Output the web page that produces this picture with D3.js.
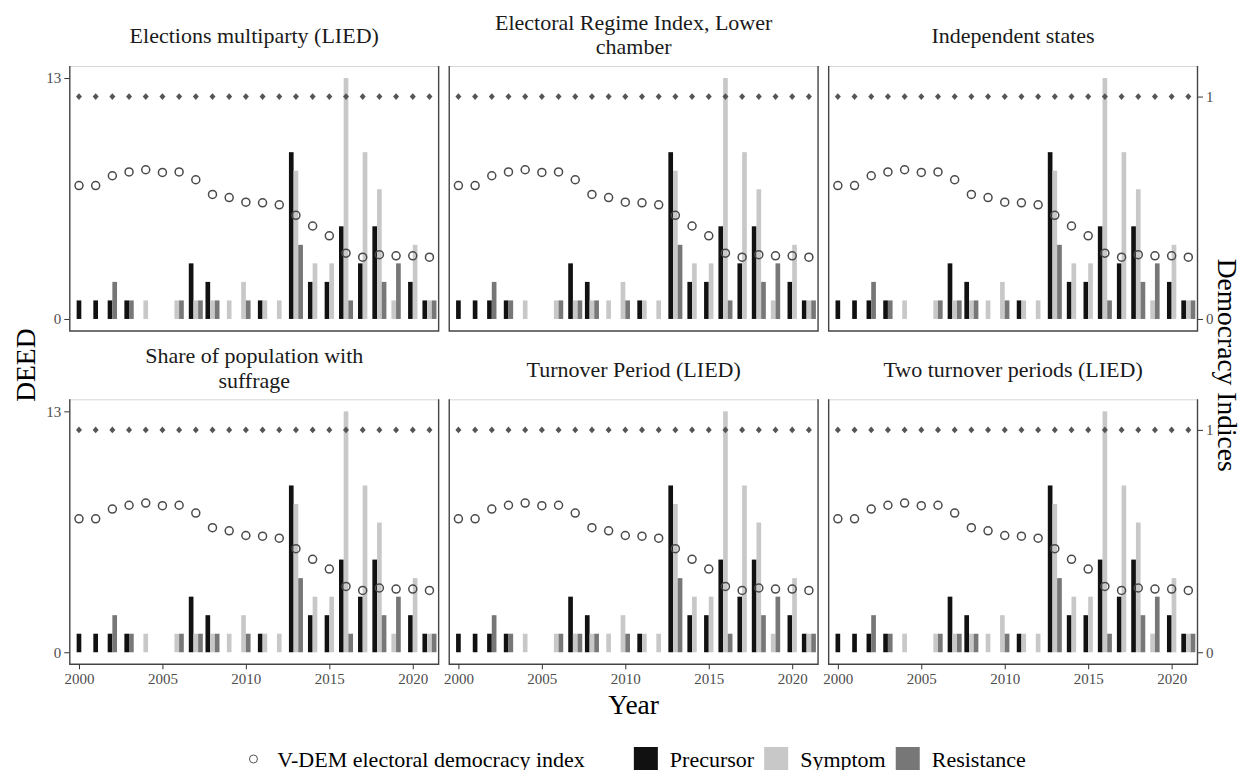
<!DOCTYPE html>
<html><head><meta charset="utf-8">
<script src="https://cdn.jsdelivr.net/npm/d3@7"></script>
<style>body{margin:0;background:#fff} svg{display:block}</style>
</head><body><svg id="c" width="1243" height="770"></svg>
<script>
// ---------------- data ----------------
const years = [2000,2001,2002,2003,2004,2005,2006,2007,2008,2009,2010,2011,2012,2013,2014,2015,2016,2017,2018,2019,2020,2021];
const precursor  = [1,1,1,1,0,0,0,3,2,0,0,1,0,9,2,2,5,3,5,0,2,1];
const symptom    = [0,0,0,0,1,0,1,1,1,1,2,1,1,8,3,3,13,9,7,1,4,1];
const resistance = [0,0,2,1,0,0,1,1,1,0,1,0,0,4,0,0,1,0,2,3,0,1];
const vdemIndex  = [0.600,0.600,0.644,0.661,0.671,0.659,0.661,0.626,0.560,0.546,0.525,0.522,0.513,0.466,0.418,0.374,0.296,0.278,0.289,0.284,0.284,0.278];
const indicator  = [1,1,1,1,1,1,1,1,1,1,1,1,1,1,1,1,1,1,1,1,1,1];
const panelTitles = [
  ["Elections multiparty (LIED)"],
  ["Electoral Regime Index, Lower", "chamber"],
  ["Independent states"],
  ["Share of population with", "suffrage"],
  ["Turnover Period (LIED)"],
  ["Two turnover periods (LIED)"]
];
const xTicks = [2000,2005,2010,2015,2020];
const leftTicks = [0,13];
const rightTicks = [0,1];
const seriesNames = ["Precursor","Symptom","Resistance"];
const seriesColors = ["#111111","#c8c8c8","#777777"];
const seriesValues = [precursor, symptom, resistance];
const secScale = 12; // secondary axis: index * 12 on DEED scale

// ---------------- layout ----------------
const FONT = "'Liberation Serif', 'Times New Roman', serif";
const svg = d3.select("#c");
const left = 69.3, right = 1198, gap = 9.6;
const pw = (right - left - 2*gap) / 3;
const ph = 265;
const rowY = [66, 399.3];
const colX = [0,1,2].map(i => left + i*(pw+gap));

const x = d3.scaleLinear().domain([1999.42, 2021.58]).range([0, pw]);
const y = d3.scaleLinear().domain([-0.65, 13.65]).range([ph, 0]);
const yR = d3.scaleLinear().domain([-0.65/secScale, 13.65/secScale]).range([ph, 0]);
const pitch = 0.28;
const bw = x(pitch) - x(0);

panelTitles.forEach((title, p) => {
  const col = p % 3, row = Math.floor(p / 3);
  const g = svg.append("g").attr("transform", `translate(${colX[col]},${rowY[row]})`);

  // bars
  years.forEach((yr, i) => {
    const present = [0,1,2].filter(s => seriesValues[s][i] > 0);
    const n = present.length;
    present.forEach((s, j) => {
      const v = seriesValues[s][i];
      const cx = x(yr + (j - (n-1)/2) * pitch);
      g.append("rect")
        .attr("x", cx - bw/2).attr("width", bw)
        .attr("y", y(v)).attr("height", y(0) - y(v))
        .attr("fill", seriesColors[s]);
    });
  });

  // indicator diamonds
  g.selectAll("path.dia").data(years).join("path")
    .attr("class","dia")
    .attr("d", (d,i) => {
      const cx = x(d), cy = yR(indicator[i]);
      return `M${cx},${cy-3.3}L${cx+3},${cy}L${cx},${cy+3.3}L${cx-3},${cy}Z`;
    })
    .attr("fill", "#555");

  // V-DEM circles
  g.selectAll("circle.v").data(years).join("circle")
    .attr("class","v")
    .attr("cx", d => x(d))
    .attr("cy", (d,i) => yR(vdemIndex[i]))
    .attr("r", 4)
    .attr("fill", "none")
    .attr("stroke", "#4a4a4a")
    .attr("stroke-width", 1.5);

  // borders
  g.append("line").attr("x1",0).attr("x2",pw).attr("y1",0.5).attr("y2",0.5)
    .attr("stroke","#d6d6d6").attr("stroke-width",1);
  g.append("path").attr("d", `M0.5,0V${ph}H${pw-0.5}V0`)
    .attr("fill","none").attr("stroke","#444").attr("stroke-width",1.4);

  // axes
  const styleAxis = a => {
    a.select(".domain").remove();
    a.selectAll(".tick line").attr("stroke","#333").attr("stroke-width",1);
    a.selectAll(".tick text").attr("fill","#4d4d4d").style("font-family",FONT).style("font-size","15px");
  };
  if (col === 0) {
    g.append("g").call(d3.axisLeft(y).tickValues(leftTicks).tickFormat(d3.format("d")).tickSize(5).tickPadding(3)).call(styleAxis);
  }
  if (col === 2) {
    g.append("g").attr("transform",`translate(${pw},0)`)
      .call(d3.axisRight(yR).tickValues(rightTicks).tickFormat(d3.format("d")).tickSize(5).tickPadding(3)).call(styleAxis);
  }
  if (row === 1) {
    g.append("g").attr("transform",`translate(0,${ph})`)
      .call(d3.axisBottom(x).tickValues(xTicks).tickFormat(d3.format("d")).tickSize(5).tickPadding(4)).call(styleAxis);
  }

  // strip titles
  const base = -22.7;
  const lines = title.length;
  title.forEach((t, k) => {
    const off = lines === 1 ? 0 : (k === 0 ? -13.5 : 11);
    g.append("text").attr("x", pw/2).attr("y", base + off)
      .attr("text-anchor","middle").attr("fill","#1a1a1a")
      .style("font-family",FONT).style("font-size","22px").text(t);
  });
});

// axis titles
const midY = (rowY[0] + rowY[1] + ph) / 2;
svg.append("text").attr("transform",`translate(35,${midY}) rotate(-90)`)
  .attr("text-anchor","middle").attr("fill","#000")
  .style("font-family",FONT).style("font-size","27.5px").text("DEED");
svg.append("text").attr("transform",`translate(1218,${midY}) rotate(90)`)
  .attr("text-anchor","middle").attr("fill","#000")
  .style("font-family",FONT).style("font-size","27.5px").text("Democracy Indices");
svg.append("text").attr("x",(left+right)/2).attr("y",714)
  .attr("text-anchor","middle").attr("fill","#000")
  .style("font-family",FONT).style("font-size","27.5px").text("Year");

// legend
const lg = svg.append("g");
const ly = 759, keyW = 24;
let cur = 0;
lg.append("circle").attr("cx", cur + keyW/2).attr("cy", ly).attr("r",4)
  .attr("fill","none").attr("stroke","#555").attr("stroke-width",1);
cur += keyW + 11.7;
const t0 = lg.append("text").attr("x",cur).attr("y",ly+7.5)
  .style("font-family",FONT).style("font-size","22px").attr("fill","#000")
  .text("V-DEM electoral democracy index");
cur += t0.node().getComputedTextLength() + 49;
seriesNames.forEach((nm, s) => {
  lg.append("rect").attr("x",cur).attr("y",ly-12).attr("width",keyW).attr("height",keyW)
    .attr("fill",seriesColors[s]);
  cur += keyW + 12;
  const t = lg.append("text").attr("x",cur).attr("y",ly+7.5)
    .style("font-family",FONT).style("font-size","22px").attr("fill","#000").text(nm);
  cur += t.node().getComputedTextLength() + (s < 2 ? 10 : 0);
});
lg.attr("transform",`translate(${(left+right)/2 - cur/2},0)`);
</script></body></html>
